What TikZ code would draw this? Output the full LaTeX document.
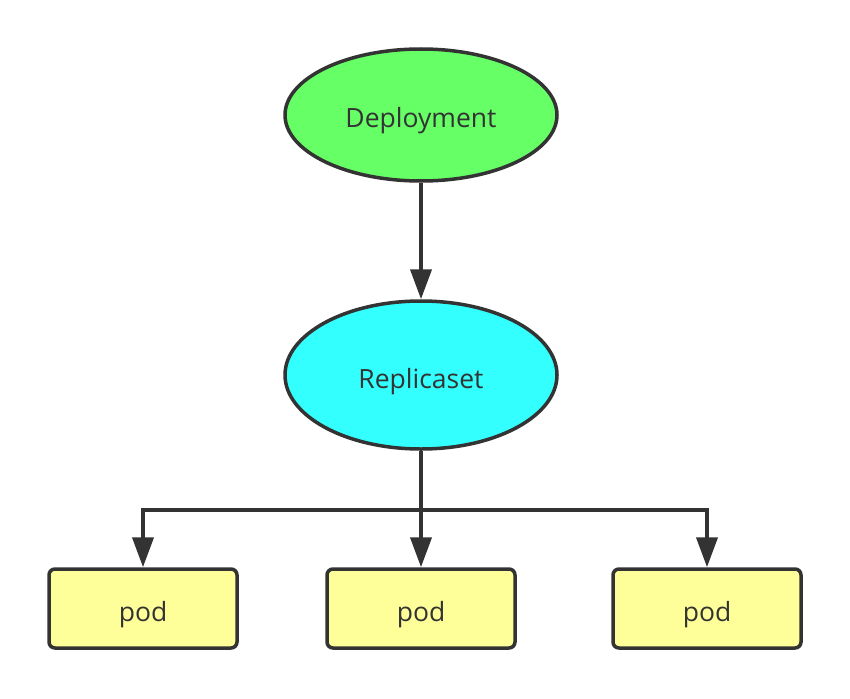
\documentclass[tikz,border=0pt]{standalone}
\usepackage{fontspec}
\setmainfont{Open Sans}
\usetikzlibrary{shapes.geometric,arrows.meta}
\definecolor{ink}{HTML}{333333}
\definecolor{depgreen}{HTML}{66FF66}
\definecolor{repcyan}{HTML}{33FFFF}
\definecolor{podyellow}{HTML}{FFFF99}
\newcommand{\lowtxt}[1]{\raisebox{-13pt}[0pt][0pt]{#1}}
\begin{document}
\begin{tikzpicture}[x=1pt,y=-1pt,
  lbl/.style={text=ink,font=\fontsize{26.5}{31}\selectfont,inner sep=0pt},
  ell/.style={ellipse,draw=ink,line width=3.5pt,lbl},
  podbox/.style={rectangle,rounded corners=6pt,draw=ink,line width=3.5pt,fill=podyellow,minimum width=188pt,minimum height=79pt,lbl},
  conn/.style={draw=ink,line width=4pt,-{Triangle[length=30pt,width=21pt]}}]
\useasboundingbox (0,0) rectangle (850,698);
\fill[white] (0,0) rectangle (850,698);
\node[ell,fill=depgreen,minimum width=272pt,minimum height=132pt] (dep) at (421,115) {\lowtxt{Deployment}};
\node[ell,fill=repcyan,minimum width=272pt,minimum height=148pt] (rep) at (421,375) {\lowtxt{Replicaset}};
\node[podbox] (p1) at (143,608.5) {\lowtxt{pod}};
\node[podbox] (p2) at (421,608.5) {\lowtxt{pod}};
\node[podbox] (p3) at (707,608.5) {\lowtxt{pod}};
\coordinate (j) at (421,510);
\draw[conn] (dep.south) -- (rep.north);
\draw[conn] (rep.south) -- (p2.north);
\draw[conn] (j) -| (p1.north);
\draw[conn] (j) -| (p3.north);
\end{tikzpicture}
\end{document}
